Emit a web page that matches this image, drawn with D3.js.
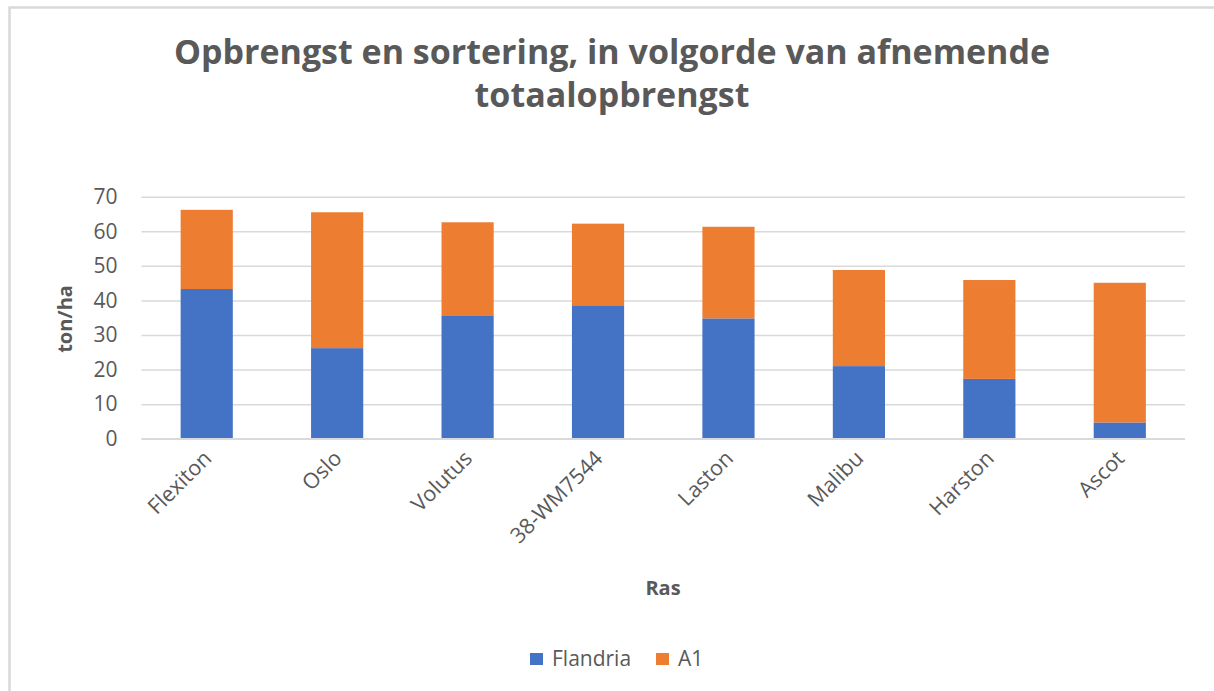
<!DOCTYPE html>
<html>
<head>
<meta charset="utf-8">
<script src="https://cdn.jsdelivr.net/npm/d3@7"></script>
<style>
  body { margin: 0; background: #fff; }
  text { fill: #595959; }
</style>
</head>
<body>
<div id="chart"></div>
<script>
// data
var rassen = ["Flexiton", "Oslo", "Volutus", "38-WM7544", "Laston", "Malibu", "Harston", "Ascot"];
var flandria = [43.3, 26.2, 35.5, 38.6, 34.8, 21.0, 17.3, 4.7];
var a1 = [22.9, 39.3, 27.1, 23.6, 26.5, 27.8, 28.6, 40.4];
var yTicks = [0, 10, 20, 30, 40, 50, 60, 70];
var seriesNames = ["Flandria", "A1"];
var seriesColors = ["#4472c4", "#ed7d31"];

var width = 1214, height = 691;
var plot = { left: 141.5, right: 1185, top: 196.7, bottom: 438.7 };
var font = "'Open Sans', sans-serif";

var svg = d3.select('#chart').append('svg')
  .attr('width', width)
  .attr('height', height);

// chart area border
svg.append('rect')
  .attr('x', 9.5).attr('y', 7.5)
  .attr('width', width + 10).attr('height', height + 10)
  .attr('fill', '#fff')
  .attr('stroke', '#d9d9d9')
  .attr('stroke-width', 2.5);

// title
svg.selectAll('.title')
  .data(["Opbrengst en sortering, in volgorde van afnemende", "totaalopbrengst"])
  .enter().append('text')
  .attr('class', 'title')
  .attr('x', 612)
  .attr('y', function(d, i) { return 64 + i * 43 })
  .attr('text-anchor', 'middle')
  .attr('font-family', font)
  .attr('font-weight', 'bold')
  .attr('font-size', '34px')
  .text(function(d) { return d });

var x = d3.scaleBand()
  .domain(rassen)
  .range([plot.left, plot.right])
  .paddingInner(0.6)
  .paddingOuter(0.3);

var y = d3.scaleLinear()
  .domain([0, 70])
  .range([plot.bottom, plot.top]);

// gridlines
svg.append('g')
  .attr('transform', 'translate(' + plot.left + ',0)')
  .call(d3.axisLeft(y).tickValues(yTicks).tickSize(-(plot.right - plot.left)).tickFormat(''))
  .call(function(g) { g.select('.domain').remove() })
  .selectAll('line')
  .attr('stroke', '#d9d9d9')
  .attr('stroke-width', 1.5);

// y tick labels
svg.append('g')
  .attr('transform', 'translate(' + (plot.left - 24) + ',0)')
  .call(d3.axisLeft(y).tickValues(yTicks).tickSize(0).tickPadding(0))
  .call(function(g) { g.select('.domain').remove() })
  .selectAll('text')
  .attr('font-family', font)
  .attr('font-size', '21px')
  .attr('fill', '#595959');

// stacked bars
var rows = rassen.map(function(r, i) { return { ras: r, Flandria: flandria[i], A1: a1[i] } });
var stack = d3.stack().keys(seriesNames)(rows);

svg.selectAll('.serie')
  .data(stack).enter().append('g')
  .attr('class', 'serie')
  .attr('fill', function(d, i) { return seriesColors[i] })
  .selectAll('rect')
  .data(function(d) { return d }).enter().append('rect')
  .attr('x', function(d) { return x(d.data.ras) })
  .attr('width', x.bandwidth())
  .attr('y', function(d) { return y(d[1]) })
  .attr('height', function(d) { return y(d[0]) - y(d[1]) });

// x axis line
svg.append('line')
  .attr('x1', plot.left).attr('x2', plot.right)
  .attr('y1', plot.bottom).attr('y2', plot.bottom)
  .attr('stroke', '#d9d9d9')
  .attr('stroke-width', 1.5);

// x labels, rotated
svg.selectAll('.xlabel')
  .data(rassen).enter().append('text')
  .attr('class', 'xlabel')
  .attr('transform', function(d) {
    return 'translate(' + (x(d) + x.bandwidth() / 2 + 6) + ',' + (plot.bottom + 21) + ') rotate(-45)';
  })
  .attr('text-anchor', 'end')
  .attr('font-family', font)
  .attr('font-size', '21.5px')
  .text(function(d) { return d });

// axis titles
svg.append('text')
  .attr('transform', 'translate(72,319) rotate(-90)')
  .attr('text-anchor', 'middle')
  .attr('font-family', font)
  .attr('font-weight', 'bold')
  .attr('font-size', '20px')
  .text('ton/ha');

svg.append('text')
  .attr('x', 663)
  .attr('y', 595)
  .attr('text-anchor', 'middle')
  .attr('font-family', font)
  .attr('font-weight', 'bold')
  .attr('font-size', '20px')
  .text('Ras');

// legend
var legend = svg.selectAll('.legend')
  .data(seriesNames).enter().append('g')
  .attr('class', 'legend')
  .attr('transform', function(d, i) { return 'translate(' + [530, 656][i] + ',653)' });

legend.append('rect')
  .attr('width', 13).attr('height', 12)
  .attr('fill', function(d, i) { return seriesColors[i] });

legend.append('text')
  .attr('x', 22)
  .attr('y', 13)
  .attr('font-family', font)
  .attr('font-size', '21px')
  .text(function(d) { return d });
</script>
</body>
</html>
